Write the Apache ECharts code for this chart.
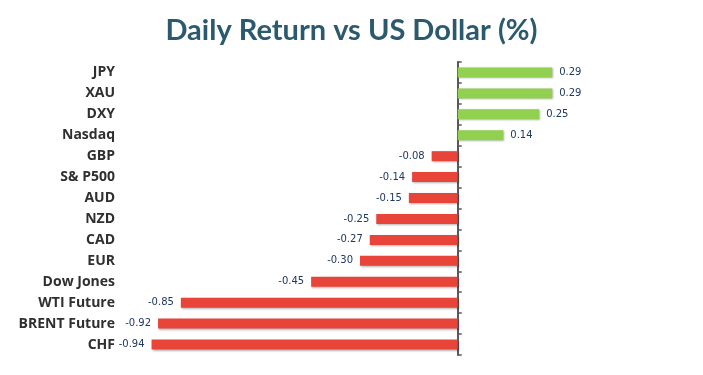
<!DOCTYPE html>
<html>
<head>
<meta charset="utf-8">
<script src="https://cdn.jsdelivr.net/npm/echarts@6/dist/echarts.min.js"></script>
<style>
  html, body { margin: 0; padding: 0; background: #fff; }
  #chart { width: 703px; height: 375px; }
</style>
</head>
<body>
<div id="chart"></div>
<script>
var chart = echarts.init(document.getElementById('chart'));

// data
var names = ['JPY', 'XAU', 'DXY', 'Nasdaq', 'GBP', 'S& P500', 'AUD', 'NZD', 'CAD', 'EUR', 'Dow Jones', 'WTI Future', 'BRENT Future', 'CHF'];
var returns = [0.29, 0.29, 0.25, 0.14, -0.08, -0.14, -0.15, -0.25, -0.27, -0.30, -0.45, -0.85, -0.92, -0.94];

var upColor = '#92d050';
var downColor = '#e8443a';

var barData = returns.map(function (v) {
    return {
        value: v,
        itemStyle: { color: v >= 0 ? upColor : downColor },
        label: { position: v >= 0 ? 'right' : 'left' }
    };
});

var option = {
    backgroundColor: '#fff',
    animation: false,
    title: {
        text: 'Daily Return vs US Dollar (%)',
        left: 'center',
        top: 11,
        textStyle: {
            color: '#2b5a6f',
            fontFamily: 'Lato',
            fontWeight: 'bold',
            fontSize: 29
        }
    },
    grid: { left: 132, right: 115, top: 62, bottom: 20 },
    xAxis: {
        type: 'value',
        min: -1,
        max: 0.4,
        show: false
    },
    yAxis: [{
        // zero line with ticks
        type: 'category',
        data: names,
        inverse: true,
        position: 'left',
        axisLine: { onZero: true, lineStyle: { color: '#595959', width: 2 } },
        axisTick: { show: true, inside: true, length: 4, lineStyle: { color: '#595959', width: 1.5 } },
        axisLabel: { show: false }
    }, {
        // labels on the left edge
        type: 'category',
        data: names,
        inverse: true,
        position: 'left',
        axisLine: { show: false, onZero: false },
        axisTick: { show: false },
        axisLabel: {
            margin: 17,
            color: '#2f2f2f',
            fontFamily: 'Open Sans',
            fontWeight: 'bold',
            fontSize: 14
        }
    }],
    series: [{
        type: 'bar',
        yAxisIndex: 0,
        barWidth: 10,
        data: barData,
        itemStyle: {
            shadowColor: 'rgba(0,0,0,0.3)',
            shadowBlur: 2,
            shadowOffsetX: 1,
            shadowOffsetY: 1
        },
        label: {
            show: true,
            distance: 7,
            color: '#1f3864',
            fontFamily: 'DejaVu Sans',
            fontSize: 10,
            formatter: function (p) { return p.value.toFixed(2); }
        }
    }]
};

chart.setOption(option);
</script>
</body>
</html>
